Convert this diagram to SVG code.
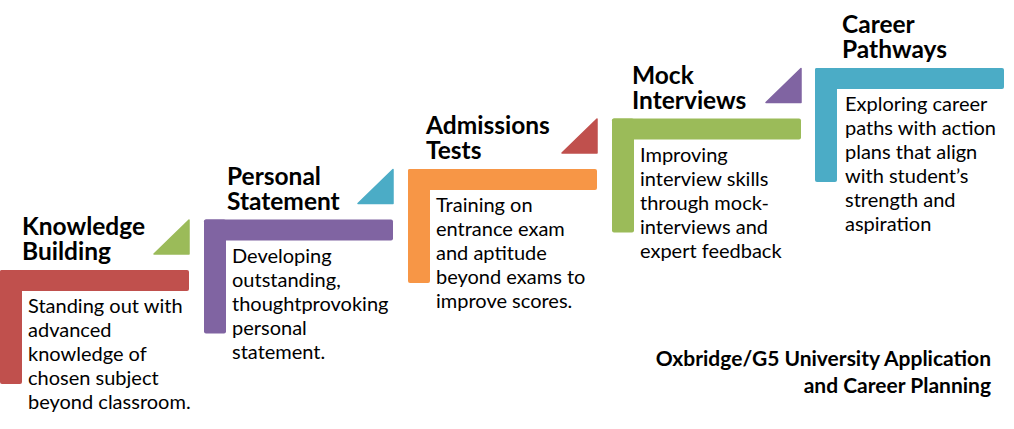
<svg xmlns="http://www.w3.org/2000/svg" width="1014" height="429" viewBox="0 0 1014 429">
<style>
.t{font-family:Lato,"Liberation Sans",sans-serif;font-weight:bold;font-size:24.5px;fill:#000}
.b{font-family:Lato,"Liberation Sans",sans-serif;font-size:20px;fill:#000}
.f{font-family:Lato,"Liberation Sans",sans-serif;font-weight:bold;font-size:21px;fill:#000}
.tri{stroke-linejoin:round;stroke-width:1.5}
</style>
<rect width="1014" height="429" fill="#fff"/>
<g id="connectors">
<polygon class="tri" points="154,254 189,220 189,254" fill="#9BBB59" stroke="#9BBB59"/>
<polygon class="tri" points="358,203.5 393,169.5 393,203.5" fill="#4BACC6" stroke="#4BACC6"/>
<polygon class="tri" points="562,153 597,119 597,153" fill="#C0504D" stroke="#C0504D"/>
<polygon class="tri" points="766,102.5 801,68.5 801,102.5" fill="#8064A2" stroke="#8064A2"/>
</g>
<g id="step1">
<rect x="0" y="270" width="189" height="21" rx="2" fill="#C0504D"/>
<rect x="0" y="270" width="22" height="114" rx="2" fill="#C0504D"/>
<text class="t"><tspan x="22" y="235">Knowledge</tspan><tspan x="22" y="260">Building</tspan></text>
<text class="b"><tspan x="28" y="313">Standing out with</tspan><tspan x="28" y="337">advanced</tspan><tspan x="28" y="361">knowledge of</tspan><tspan x="28" y="385">chosen subject</tspan><tspan x="28" y="409">beyond classroom.</tspan></text>
</g>
<g id="step2">
<rect x="204" y="219.5" width="189" height="21" rx="2" fill="#8064A2"/>
<rect x="204" y="219.5" width="22" height="114" rx="2" fill="#8064A2"/>
<text class="t"><tspan x="227" y="184.5">Personal</tspan><tspan x="227" y="209.5">Statement</tspan></text>
<text class="b"><tspan x="232" y="262.5">Developing</tspan><tspan x="232" y="286.5">outstanding,</tspan><tspan x="232" y="310.5">thoughtprovoking</tspan><tspan x="232" y="334.5">personal</tspan><tspan x="232" y="358.5">statement.</tspan></text>
</g>
<g id="step3">
<rect x="408" y="169" width="189" height="21" rx="2" fill="#F79646"/>
<rect x="408" y="169" width="22" height="114" rx="2" fill="#F79646"/>
<text class="t"><tspan x="426" y="134">Admissions</tspan><tspan x="426" y="159">Tests</tspan></text>
<text class="b"><tspan x="436" y="212">Training on</tspan><tspan x="436" y="236">entrance exam</tspan><tspan x="436" y="260">and aptitude</tspan><tspan x="436" y="284">beyond exams to</tspan><tspan x="436" y="308">improve scores.</tspan></text>
</g>
<g id="step4">
<rect x="612" y="118.5" width="189" height="21" rx="2" fill="#9BBB59"/>
<rect x="612" y="118.5" width="22" height="114" rx="2" fill="#9BBB59"/>
<text class="t"><tspan x="632" y="83.5">Mock</tspan><tspan x="632" y="108.5">Interviews</tspan></text>
<text class="b"><tspan x="640" y="161.5">Improving</tspan><tspan x="640" y="185.5">interview skills</tspan><tspan x="640" y="209.5">through mock-</tspan><tspan x="640" y="233.5">interviews and</tspan><tspan x="640" y="257.5">expert feedback</tspan></text>
</g>
<g id="step5">
<rect x="815" y="68" width="189" height="21" rx="2" fill="#4BACC6"/>
<rect x="815" y="68" width="22" height="114" rx="2" fill="#4BACC6"/>
<text class="t"><tspan x="842" y="33">Career</tspan><tspan x="842" y="58">Pathways</tspan></text>
<text class="b"><tspan x="845" y="111">Exploring career</tspan><tspan x="845" y="135">paths with action</tspan><tspan x="845" y="159">plans that align</tspan><tspan x="845" y="183">with student’s</tspan><tspan x="845" y="207">strength and</tspan><tspan x="845" y="231">aspiration</tspan></text>
</g>
<g id="caption">
<text class="f" text-anchor="end"><tspan x="991" y="366">Oxbridge/G5 University Application</tspan><tspan x="991" y="393">and Career Planning</tspan></text>
</g>
</svg>
